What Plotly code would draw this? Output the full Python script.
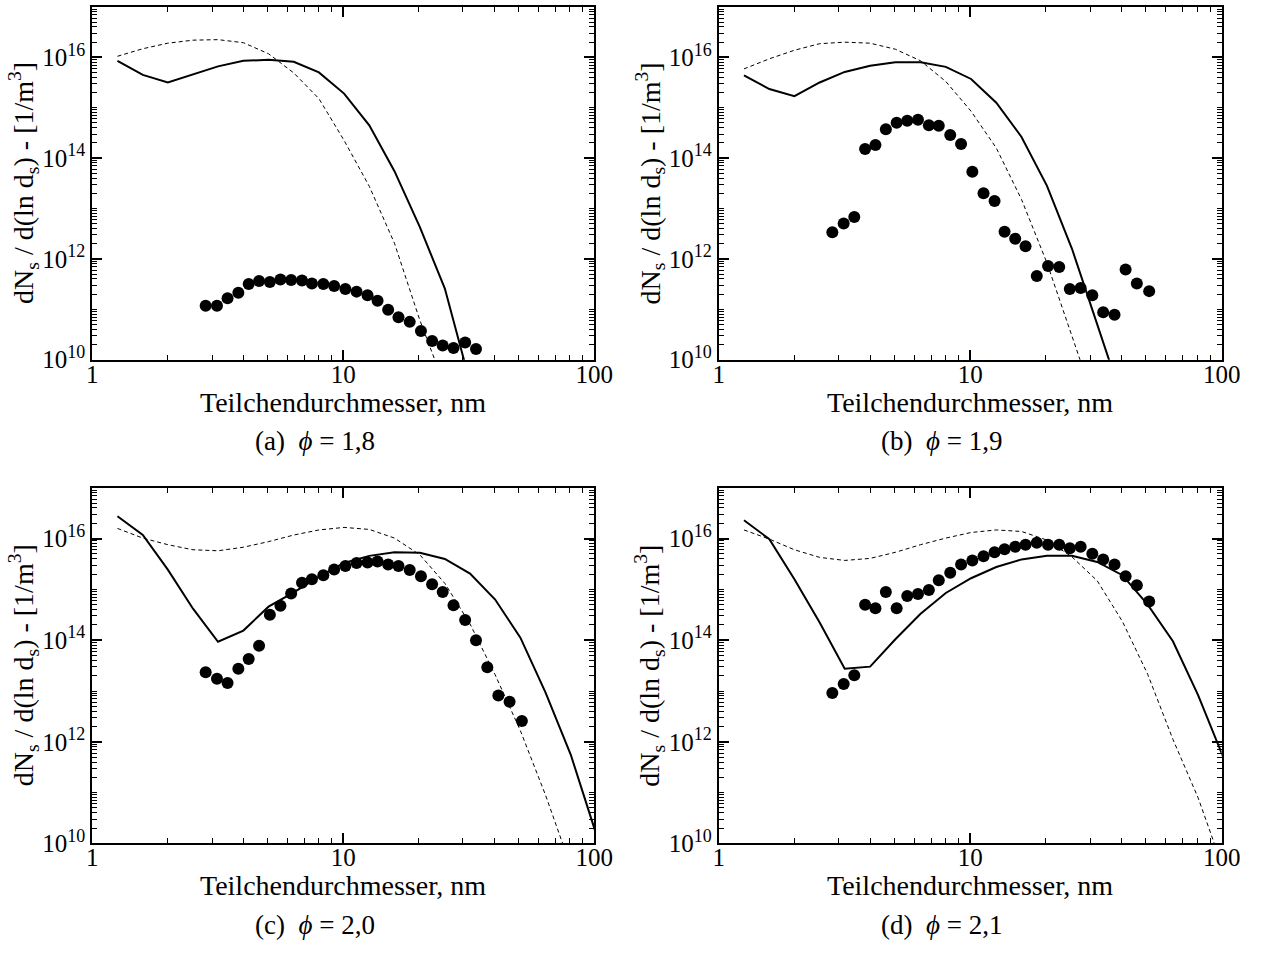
import plotly.graph_objects as go

# ---------------- data ----------------
# simulation size grid (nm)
SIM_D = [1.26, 1.59, 2.0, 2.52, 3.17, 4.0, 5.04, 6.35, 8.0, 10.08,
         12.7, 16.0, 20.2, 25.4, 32.0, 40.3, 50.8, 64.0, 80.6, 101.6]
# measurement size channels (nm)
DOT_D = [2.83, 3.14, 3.46, 3.82, 4.2, 4.62, 5.1, 5.62, 6.2, 6.85,
         7.5, 8.33, 9.2, 10.2, 11.3, 12.5, 13.7, 15.1, 16.6, 18.4,
         20.4, 22.6, 24.9, 27.5, 30.6, 33.8, 37.5, 41.5, 46.0, 51.5]

# values given as log10 of dN/d(ln d) in 1/m^3
A_SOLID = [15.93, 15.65, 15.50, 15.66, 15.82, 15.93, 15.95, 15.91, 15.70, 15.28,
           14.65, 13.74, 12.63, 11.41, 9.55]
A_DASH = [16.02, 16.17, 16.28, 16.34, 16.35, 16.29, 16.07, 15.69, 15.18, 14.35,
          13.44, 12.31, 10.78, 9.47]
A_DOTS = [11.07, 11.07, 11.22, 11.33, 11.50, 11.56, 11.54, 11.59, 11.58, 11.57,
          11.51, 11.50, 11.46, 11.40, 11.35, 11.28, 11.17, 10.99, 10.84, 10.75,
          10.57, 10.37, 10.28, 10.23, 10.34, 10.21]

B_SOLID = [15.64, 15.37, 15.23, 15.50, 15.71, 15.83, 15.90, 15.90, 15.81, 15.57,
           15.10, 14.42, 13.45, 12.20, 10.70, 9.2]
B_DASH = [15.77, 15.97, 16.14, 16.27, 16.30, 16.28, 16.16, 15.93, 15.52, 14.93,
          14.20, 13.18, 11.92, 10.5, 9.0]
B_DOTS = [12.53, 12.70, 12.83, 14.18, 14.26, 14.57, 14.70, 14.74, 14.76, 14.65,
          14.64, 14.46, 14.28, 13.73, 13.30, 13.15, 12.54, 12.40, 12.25, 11.66,
          11.86, 11.84, 11.40, 11.42, 11.28, 10.94, 10.89, 11.79, 11.51, 11.36]

C_SOLID = [16.44, 16.07, 15.39, 14.62, 13.97, 14.19, 14.66, 14.94, 15.25, 15.52,
           15.66, 15.73, 15.72, 15.60, 15.31, 14.80, 14.05, 12.97, 11.75, 10.20]
C_DASH = [16.20, 16.01, 15.88, 15.78, 15.76, 15.83, 15.94, 16.07, 16.17, 16.22,
          16.18, 16.01, 15.68, 15.12, 14.32, 13.32, 12.22, 10.95, 9.55]
C_DOTS = [13.37, 13.24, 13.16, 13.44, 13.63, 13.89, 14.50, 14.68, 14.92, 15.13,
          15.20, 15.28, 15.39, 15.46, 15.52, 15.53, 15.55, 15.49, 15.46, 15.38,
          15.26, 15.10, 14.95, 14.69, 14.40, 14.00, 13.47, 12.91, 12.79, 12.41]

D_SOLID = [16.36, 15.99, 15.20, 14.35, 13.44, 13.48, 14.02, 14.52, 14.93, 15.22,
           15.44, 15.59, 15.66, 15.66, 15.54, 15.28, 14.70, 13.98, 12.92, 11.69]
D_DASH = [16.17, 15.99, 15.78, 15.63, 15.57, 15.61, 15.73, 15.88, 16.01, 16.12,
          16.17, 16.14, 15.97, 15.64, 15.17, 14.37, 13.33, 12.05, 10.90, 9.5]
D_DOTS = [12.96, 13.14, 13.31, 14.70, 14.63, 14.95, 14.63, 14.87, 14.91, 14.99,
          15.18, 15.33, 15.49, 15.57, 15.65, 15.73, 15.79, 15.84, 15.88, 15.92,
          15.88, 15.88, 15.81, 15.84, 15.70, 15.59, 15.49, 15.26, 15.08, 14.76]

CAPTIONS = ["(a)  <i>ϕ</i> = 1,8", "(b)  <i>ϕ</i> = 1,9",
            "(c)  <i>ϕ</i> = 2,0", "(d)  <i>ϕ</i> = 2,1"]
X_TITLE = "Teilchendurchmesser, nm"
Y_TITLE = "dN<sub>s</sub> / d(ln d<sub>s</sub>) - [1/m<sup>3</sup>]"
X_TICKS = [1, 10, 100]
X_TICKTEXT = ["1", "10", "100"]
Y_TICKS = [1e10, 1e12, 1e14, 1e16]
Y_EXPONENTS = ["10", "12", "14", "16"]

PANELS = [(A_SOLID, A_DASH, A_DOTS), (B_SOLID, B_DASH, B_DOTS),
          (C_SOLID, C_DASH, C_DOTS), (D_SOLID, D_DASH, D_DOTS)]

# ---------------- layout geometry (pixels) ----------------
W, H = 1273, 958
FONT = "Liberation Serif"
cols = [(88, 600), (727, 1240)]
rows = [(7, 365), (495, 856)]

x_minor = [m * 10 ** e for e in range(0, 2) for m in range(2, 10)]
y_minor = [m * 10.0 ** e for e in range(10, 17) for m in range(1, 10) if not (m == 1 and e % 2 == 0)]
y_ticktext = ["10<sup><span style='font-size:18px'>%s</span></sup>" % e for e in Y_EXPONENTS]

fig = go.Figure()
layout = dict(width=W, height=H, margin=dict(l=0, r=0, t=0, b=0),
              paper_bgcolor="white", plot_bgcolor="white",
              showlegend=False, font=dict(family=FONT, color="black"))
annotations = []

def px(x):
    return x / W

def py(y):
    return 1 - y / H

for i, (solid, dash, dots) in enumerate(PANELS):
    r, c = divmod(i, 2)
    x0, x1 = cols[c]
    y0, y1 = rows[r]
    n = "" if i == 0 else str(i + 1)
    xa, ya = "xaxis" + n, "yaxis" + n
    layout[xa] = dict(
        type="log", range=[0, 2], domain=[px(x0), px(x1)], anchor="y" + n,
        showline=True, linecolor="black", linewidth=2, mirror="ticks",
        showgrid=False, zeroline=False,
        tickmode="array", tickvals=X_TICKS, ticktext=X_TICKTEXT,
        ticks="inside", ticklen=10, tickwidth=1.5, tickcolor="black",
        ticklabelstandoff=-9,
        tickfont=dict(family=FONT, size=25, color="black"),
        minor=dict(tickmode="array", tickvals=x_minor, ticks="inside",
                   ticklen=5, tickwidth=1, tickcolor="black", showgrid=False),
    )
    layout[ya] = dict(
        type="log", range=[10, 17], domain=[py(y1), py(y0)], anchor="x" + n,
        showline=True, linecolor="black", linewidth=2, mirror="ticks",
        showgrid=False, zeroline=False,
        tickmode="array", tickvals=Y_TICKS, ticktext=y_ticktext,
        ticks="inside", ticklen=10, tickwidth=1.5, tickcolor="black",
        tickfont=dict(family=FONT, size=25, color="black"),
        minor=dict(tickmode="array", tickvals=y_minor, ticks="inside",
                   ticklen=5, tickwidth=1, tickcolor="black", showgrid=False),
    )
    xr, yr = "x" + n, "y" + n
    fig.add_trace(go.Scatter(x=SIM_D[:len(dash)], y=[10 ** v for v in dash],
                             mode="lines", xaxis=xr, yaxis=yr,
                             line=dict(color="black", width=1, dash="4px,3px")))
    fig.add_trace(go.Scatter(x=SIM_D[:len(solid)], y=[10 ** v for v in solid],
                             mode="lines", xaxis=xr, yaxis=yr,
                             line=dict(color="black", width=2)))
    fig.add_trace(go.Scatter(x=DOT_D[:len(dots)], y=[10 ** v for v in dots],
                             mode="markers", xaxis=xr, yaxis=yr,
                             marker=dict(color="black", size=12, line=dict(width=0))))

    cx = (x0 + x1) / 2
    cy = (y0 + y1) / 2
    annotations.append(dict(text=X_TITLE, x=px(cx), y=py(y1 + 43), xref="paper", yref="paper",
                            xanchor="center", yanchor="middle", showarrow=False,
                            font=dict(family=FONT, size=28, color="black")))
    annotations.append(dict(text=Y_TITLE, x=px(x0 - 70), y=py(cy), xref="paper", yref="paper",
                            xanchor="center", yanchor="middle", showarrow=False, textangle=-90,
                            font=dict(family=FONT, size=28, color="black")))
    annotations.append(dict(text=CAPTIONS[i], x=px(x0 + 227), y=py(y1 + 83), xref="paper", yref="paper",
                            xanchor="center", yanchor="middle", showarrow=False,
                            font=dict(family=FONT, size=27, color="black")))

layout["annotations"] = annotations
fig.update_layout(**layout)
fig.write_html("out.html")
